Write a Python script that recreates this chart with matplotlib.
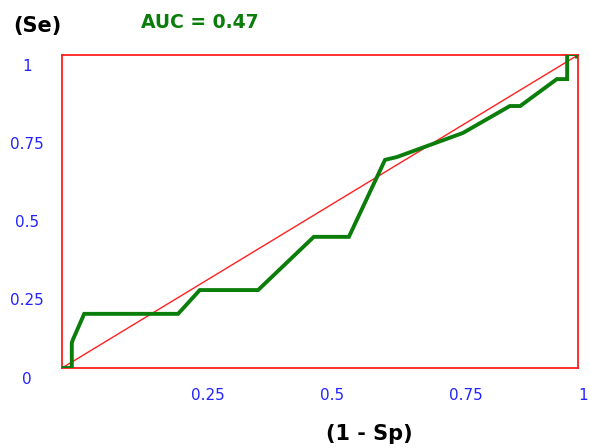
import numpy as np
from matplotlib import pyplot as plt
from matplotlib import transforms

# ROC curve
fpr = [0.0, 0.019, 0.019, 0.021, 0.043, 0.225, 0.267, 0.380, 0.488, 0.556,
       0.626, 0.649, 0.777, 0.868, 0.888, 0.959, 0.979, 0.979, 0.998, 0.998]
tpr = [0.0, 0.0, 0.08, 0.09, 0.173, 0.173, 0.249, 0.249, 0.419, 0.419,
       0.665, 0.674, 0.751, 0.837, 0.837, 0.923, 0.923, 1.003, 1.003, 0.995]
auc = 0.47

xticks = [0.25, 0.5, 0.75, 1]
xlabels = ["0.25", "0.5", "0.75", "1"]
yticks = [0, 0.25, 0.5, 0.75, 1]
ylabels = ["0", "0.25", "0.5", "0.75", "1"]

green = "#0a7d0a"
red = "#ff2020"
blue = "#2323ff"

fig = plt.figure(figsize=(5.9, 4.48), dpi=100)
ax = fig.add_axes([62/590, 1-368/448, 516/590, 313/448])

ax.plot([0, 1], [0, 1], color=red, lw=1.0, zorder=2)
ax.plot(fpr, tpr, color=green, lw=2.8, zorder=3, solid_joinstyle="miter")

ax.set_xlim(0, 1)
ax.set_ylim(0, 1)
for s in ax.spines.values():
    s.set_color(red)
    s.set_linewidth(1.3)
ax.set_xticks([])
ax.set_yticks([])

# tick labels, placed like the original
for v, lab in zip(xticks, xlabels):
    off = transforms.ScaledTranslation(0, -28/100, fig.dpi_scale_trans)
    ax.text(v, 0, lab, transform=ax.transData + off, ha="left", va="center",
            color=blue, fontsize=11)
for v, lab in zip(yticks, ylabels):
    off = transforms.ScaledTranslation(-35/100, -11/100, fig.dpi_scale_trans)
    ax.text(0, v, lab, transform=ax.transData + off, ha="center", va="center",
            color=blue, fontsize=11)

fig.text(37/590, 1-26/448, "(Se)", ha="center", va="center",
         fontsize=15, fontweight="bold", color="black")
fig.text(200/590, 1-22/448, f"AUC = {auc:.2f}", ha="center", va="center",
         fontsize=13.5, fontweight="bold", color=green)
fig.text(369/590, 1-434/448, "(1 - Sp)", ha="center", va="center",
         fontsize=15, fontweight="bold", color="black")

fig.savefig("out.png", dpi=100)
